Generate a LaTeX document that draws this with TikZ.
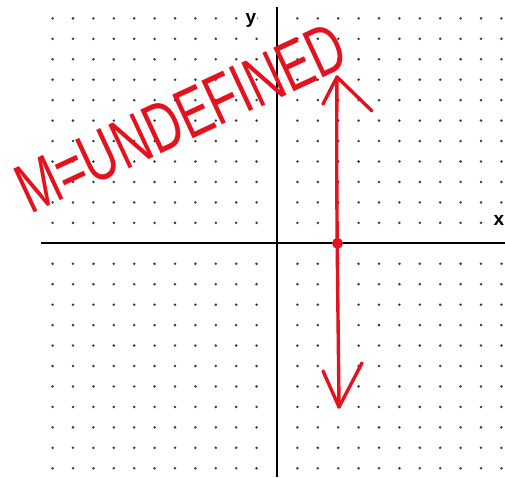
\documentclass[tikz,border=0pt]{standalone}
\usepackage{fontspec}
\setmainfont{Liberation Sans}
\definecolor{pen}{RGB}{228,18,30}
\definecolor{dotc}{RGB}{60,60,60}
\begin{document}
\begin{tikzpicture}[x=1pt,y=-1pt,
  axis/.style={draw=black,line width=2.3pt},
  griddot/.style={fill=dotc},
  penline/.style={draw=pen,line width=3.4pt,line cap=round,line join=round},
  lbl/.style={font=\bfseries\fontsize{19}{19}\selectfont,inner sep=0pt}]
\useasboundingbox (0,0) rectangle (505,477);
\fill[white] (0,0) rectangle (505,477);
% dot grid
\foreach \k in {-11,...,11}{
  \foreach \j in {-11,...,11}{
    \pgfmathtruncatemacro{\prod}{\k*\j}
    \ifnum\prod=0\relax\else
      \fill[griddot] ({277+20.4*\k},{243.3+20.45*\j}) circle (1.4);
    \fi
  }
}
% axes
\coordinate (xl) at (41,243.3);
\coordinate (xr) at (505,243.3);
\coordinate (yt) at (277,7);
\coordinate (yb) at (277,477);
\draw[axis] (xl) -- (xr);
\draw[axis] (yt) -- (yb);
\node[lbl,fill=white,inner sep=1pt] (ylab) at (251,20) {y};
\node[lbl] (xlab) at (499,220) {x};
% vertical line x = 3
\coordinate (top) at (337,77);
\coordinate (bot) at (339,407);
\coordinate (tl) at (323,104);
\coordinate (tr) at (372,111);
\coordinate (bl) at (323,371);
\coordinate (br) at (362,363);
\draw[penline] (top) .. controls (336,200) and (338,300) .. (bot);
\draw[penline] (tl) -- (top) -- (tr);
\draw[penline] (bl) -- (bot) -- (br);
\node[circle,fill=pen,inner sep=0pt,minimum size=11pt] (pt) at (337.5,243.3) {};
% handwritten label
\node[text=pen,rotate=25,inner sep=0pt] (m) at (181,118)
  {\scalebox{0.7}[1]{\fontsize{70}{70}\selectfont M=UNDEFINED}};
\end{tikzpicture}
\end{document}
